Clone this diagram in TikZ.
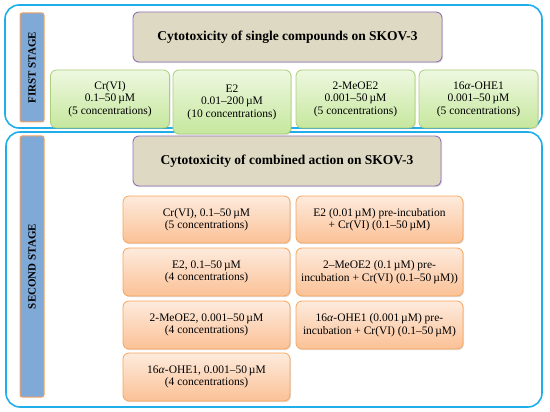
\documentclass[tikz,border=0pt]{standalone}
\usepackage{fontspec}
\setmainfont{Liberation Serif}
\usetikzlibrary{shadows,positioning}

\definecolor{stageblue}{HTML}{1FAEEA}
\definecolor{barblue}{HTML}{7FA9D6}
\definecolor{barorange}{HTML}{F4A460}
\definecolor{titletan}{HTML}{DDD9C3}
\definecolor{titleviolet}{HTML}{9273B5}
\definecolor{greenline}{HTML}{A9CF7A}
\definecolor{greentop}{HTML}{EEF8E0}
\definecolor{greenbot}{HTML}{C6E79E}
\definecolor{orangeline}{HTML}{F8A45C}
\definecolor{orangetop}{HTML}{FDEBDD}
\definecolor{orangebot}{HTML}{FBC196}

\tikzstyle{stagebox} = [draw=stageblue, line width=1.6pt, rounded corners=14pt]
\tikzstyle{stagebar} = [draw=barorange, fill=barblue, line width=1pt, rounded corners=2pt,
  inner sep=0pt, rotate=90, minimum height=24pt, font=\bfseries\fontsize{11}{13}\selectfont]
\tikzstyle{titlebox} = [draw=titleviolet, fill=titletan, line width=0.9pt, rounded corners=6pt,
  minimum width=309pt, minimum height=50pt, font=\bfseries\fontsize{13.5}{16}\selectfont,
  drop shadow={shadow xshift=1pt, shadow yshift=-1.2pt, opacity=0.25}]
\tikzstyle{greenbox} = [draw=greenline, top color=greentop, bottom color=greenbot, line width=0.8pt,
  rounded corners=6pt, align=center, inner sep=0pt, minimum width=119pt, minimum height=58pt,
  font=\fontsize{11.5}{12.5}\selectfont,
  drop shadow={shadow xshift=1pt, shadow yshift=-1.2pt, opacity=0.2}]
\tikzstyle{orangebox} = [draw=orangeline, top color=orangetop, bottom color=orangebot, line width=0.8pt,
  rounded corners=6pt, align=center, inner sep=0pt, minimum width=167pt, minimum height=48pt,
  font=\fontsize{11.5}{12.5}\selectfont,
  drop shadow={shadow xshift=1pt, shadow yshift=-1.2pt, opacity=0.25}]

\newcommand{\uM}{\,µM}
\newcommand{\alf}{\textit{α}}

\begin{document}
\begin{tikzpicture}[x=1pt,y=-1pt]
	\useasboundingbox (0,0) rectangle (550,412);

	%% stage frames
	\draw[stagebox] (5,5) rectangle (542,128);
	\draw[stagebox] (6,132) rectangle (542,407);

	%% first stage
	\node[stagebar, minimum width=109pt] (bar1) at (32,67.5) {FIRST STAGE};
	\node[titlebox] (title1) at (287.5,37) {Cytotoxicity of single compounds on SKOV-3};

	\node[greenbox] (cr) at (110,99) {Cr(VI)\\0.1–50\uM\\(5 concentrations)};
	\node[greenbox, minimum width=118pt, minimum height=64pt] (e2) at (232,102)
	  {E2\\0.01–200\uM\\(10 concentrations)};
	\node[greenbox] (meo) at (355.5,99) {2-MeOE2\\0.001–50\uM\\(5 concentrations)};
	\node[greenbox] (ohe) at (478.5,99) {16\alf-OHE1\\0.001–50\uM\\(5 concentrations)};

	%% second stage
	\node[stagebar, minimum width=261pt] (bar2) at (32,266.5) {SECOND STAGE};
	\node[titlebox, minimum width=308pt] (title2) at (287,161) {Cytotoxicity of combined action on SKOV-3};

	% single agents
	\node[orangebox, minimum height=47pt] (crA) at (206.5,219.5) {Cr(VI), 0.1–50\uM\\(5 concentrations)};
	\node[orangebox] (e2A) at (206.5,272) {E2, 0.1–50\uM\\(4 concentrations)};
	\node[orangebox] (meoA) at (206.5,325) {2-MeOE2, 0.001–50\uM\\(4 concentrations)};
	\node[orangebox] (oheA) at (206.5,377) {16\alf-OHE1, 0.001–50\uM\\(4 concentrations)};

	% pre-incubation + Cr(VI)
	\node[orangebox, minimum height=47pt] (e2B) at (379.5,219.5) {E2 (0.01\uM) pre-incubation\\+ Cr(VI) (0.1–50\uM)};
	\node[orangebox] (meoB) at (379.5,272) {2–MeOE2 (0.1\uM) pre-\\incubation + Cr(VI) (0.1–50\uM))};
	\node[orangebox] (oheB) at (379.5,325) {16\alf-OHE1 (0.001\uM) pre-\\incubation + Cr(VI) (0.1–50\uM)};
\end{tikzpicture}
\end{document}
